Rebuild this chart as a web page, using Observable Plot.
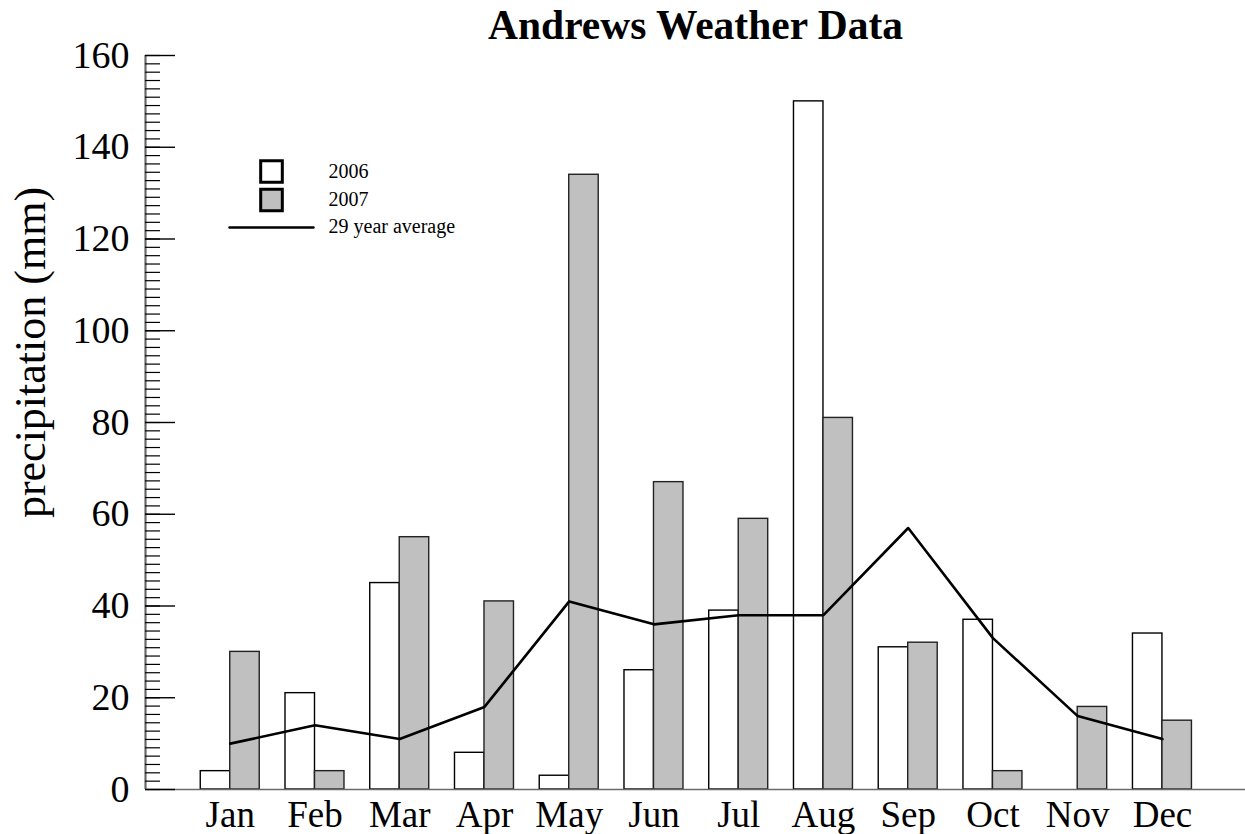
<!DOCTYPE html>
<html><head><meta charset="utf-8">
<script src="https://cdn.jsdelivr.net/npm/d3@7"></script>
<script src="https://cdn.jsdelivr.net/npm/@observablehq/plot@0.6"></script>
<style>body{margin:0;background:#fff;} svg{display:block}</style>
</head><body><div id="chart"></div>
<script>
const months = ["Jan","Feb","Mar","Apr","May","Jun","Jul","Aug","Sep","Oct","Nov","Dec"];
const precip2006 = [4, 21, 45, 8, 3, 26, 39, 150, 31, 37, 0, 34];
const precip2007 = [30, 4, 55, 41, 134, 67, 59, 81, 32, 4, 18, 15];
const average29 = [10, 14, 11, 18, 41, 36, 38, 38, 57, 33, 16, 11];
const yTickLabels = [0, 20, 40, 60, 80, 100, 120, 140, 160];
const monthPositions = months.map((m, i) => i + 1);
const yMinorTicks = d3.range(0, 8 * 11 + 1).map(k => k * 20 / 11);
const legendLabels = ["2006", "2007", "29 year average"];

const barWidth = 0.348;
const rows2006 = months.map((m, i) => ({pos: monthPositions[i], value: precip2006[i]})).filter(d => d.value > 0);
const rows2007 = months.map((m, i) => ({pos: monthPositions[i], value: precip2007[i]}));
const rowsAvg = months.map((m, i) => ({pos: monthPositions[i], value: average29[i]}));

const serif = "'Liberation Serif', 'Times New Roman', Times, serif";

const chart = Plot.plot({
  width: 1245, height: 834,
  marginLeft: 145, marginRight: 0, marginTop: 55, marginBottom: 45,
  x: {type: "linear", domain: [0, 12.98]},
  y: {domain: [0, 160]},
  style: {fontFamily: serif, background: "#fff", color: "black"},
  marks: [
    Plot.rect(rows2006, {x1: d => d.pos - barWidth, x2: d => d.pos, y1: 0, y2: "value", fill: "white", stroke: "black", strokeWidth: 1.4}),
    Plot.rect(rows2007, {x1: d => d.pos, x2: d => d.pos + barWidth, y1: 0, y2: "value", fill: "#c0c0c0", stroke: "#222", strokeWidth: 1.4}),
    Plot.line(rowsAvg, {x: "pos", y: "value", stroke: "black", strokeWidth: 2.6}),
    Plot.ruleY([0], {stroke: "#6a6a6a", strokeWidth: 1.6}),
    Plot.ruleX([0], {stroke: "#6a6a6a", strokeWidth: 2.2}),
    Plot.axisY({ticks: yMinorTicks, tickSize: -15, fill: "none", label: null, stroke: "black", strokeWidth: 1.2}),
    Plot.axisY({ticks: yTickLabels, tickSize: -30, fill: "none", label: null, stroke: "black", strokeWidth: 1.4}),
    Plot.axisY({ticks: yTickLabels, tickSize: 0, tickPadding: 16, fontSize: 38, label: null, tickFormat: d => String(d)}),
    Plot.axisX({ticks: monthPositions, tickSize: 0, tickPadding: 11, fontSize: 37, label: null, tickFormat: d => months[d - 1]}),
    Plot.text(["Andrews Weather Data"], {frameAnchor: "top", lineAnchor: "top", dy: -46, fontSize: 41.5, fontWeight: "bold"}),
    Plot.text(["precipitation (mm)"], {frameAnchor: "left", textAnchor: "middle", lineAnchor: "middle", dx: -115, dy: -70, rotate: -90, fontSize: 44}),
    // legend
    Plot.dot([legendLabels[0]], {frameAnchor: "top-left", dx: 126, dy: 116, symbol: "square", r: 12.2, fill: "white", stroke: "black", strokeWidth: 3}),
    Plot.dot([legendLabels[1]], {frameAnchor: "top-left", dx: 126, dy: 144.5, symbol: "square", r: 12.2, fill: "#c0c0c0", stroke: "black", strokeWidth: 3}),
    Plot.vector([legendLabels[2]], {frameAnchor: "top-left", dx: 84, dy: 172, rotate: 90, length: 84, anchor: "start", stroke: "black", strokeWidth: 2.4,
      shape: {draw(context, l) { context.moveTo(0, 0); context.lineTo(0, -l); }}}),
    Plot.text([legendLabels[0]], {frameAnchor: "top-left", lineAnchor: "top", dx: 183, dy: 107.8, textAnchor: "start", fontSize: 20}),
    Plot.text([legendLabels[1]], {frameAnchor: "top-left", lineAnchor: "top", dx: 183, dy: 135.8, textAnchor: "start", fontSize: 20}),
    Plot.text([legendLabels[2]], {frameAnchor: "top-left", lineAnchor: "top", dx: 183, dy: 162.8, textAnchor: "start", fontSize: 20})
  ]
});
document.getElementById("chart").appendChild(chart);
</script>
</body></html>
